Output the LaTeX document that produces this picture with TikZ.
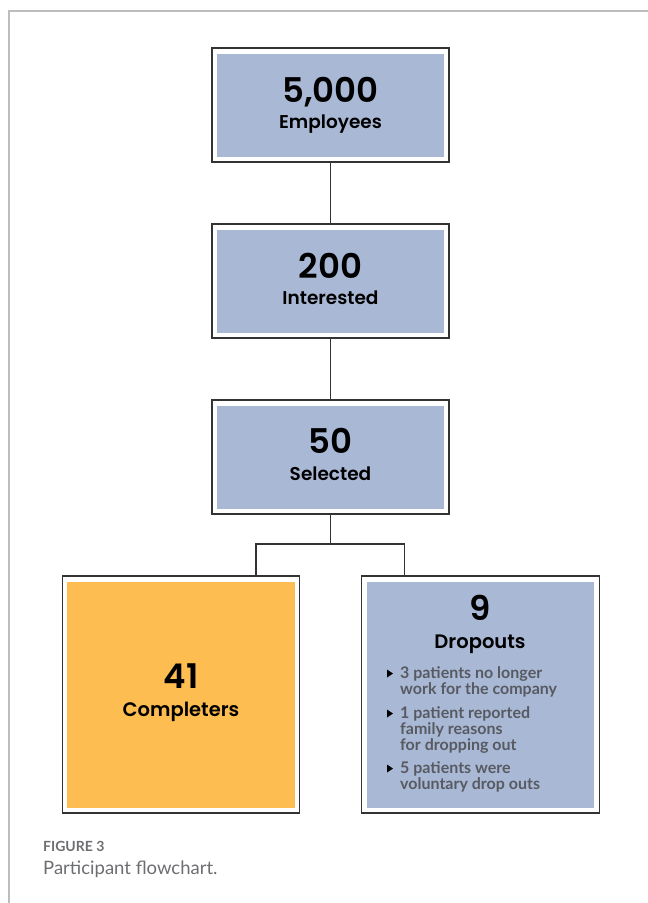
\documentclass[tikz,border=0pt]{standalone}
\usepackage{fontspec}
\newfontfamily\popf{Poppins}[BoldFont={Poppins SemiBold}]
\newfontfamily\latof{Lato}
\definecolor{boxblue}{HTML}{A9B8D5}
\definecolor{boxorange}{HTML}{FDBD51}
\definecolor{edgecol}{HTML}{333333}
\definecolor{framecol}{HTML}{BDBDBD}
\definecolor{bulletgray}{HTML}{575B61}
\definecolor{capgray}{HTML}{6D6E71}
\tikzset{
  stagebox/.style={draw=edgecol, line width=1.2pt, fill=white, inner sep=0pt,
    minimum width=237pt, minimum height=114pt,
    path picture={\fill[#1] ([shift={(5pt,-5.5pt)}]path picture bounding box.north west)
      rectangle ([shift={(-5pt,5.5pt)}]path picture bounding box.south east);}},
  bigbox/.style={stagebox=#1, minimum width=237.5pt, minimum height=237pt},
  conn/.style={draw=edgecol, line width=1.3pt},
  numtxt/.style={anchor=base, inner sep=0pt, font=\popf\bfseries\fontsize{34}{38}\selectfont},
  labtxt/.style={anchor=base, inner sep=0pt, font=\popf\bfseries\fontsize{18.5}{22}\selectfont},
  bultxt/.style={anchor=base west, inner sep=0pt, text=bulletgray, font=\latof\bfseries\fontsize{16}{16}\selectfont},
  bulmark/.style={fill=black},
  captxt/.style={anchor=base west, inner sep=0pt, text=capgray}
}
\begin{document}
\begin{tikzpicture}[x=1pt,y=-1pt]
\useasboundingbox (0,0) rectangle (648,903);
% page frame
\draw[framecol, line width=2pt] (9,903) -- (9,11) -- (648,11);

% boxes
\node[stagebox=boxblue] (n1) at (330.5,105) {};
\node[stagebox=boxblue] (n2) at (330.5,281) {};
\node[stagebox=boxblue] (n3) at (330.5,457) {};
\node[bigbox=boxorange] (n4) at (181,694.5) {};
\node[bigbox=boxblue] (n5) at (480.5,694.5) {};

% connectors
\draw[conn] (n1.south) -- (n2.north);
\draw[conn] (n2.south) -- (n3.north);
\coordinate (jl) at (256,544);
\coordinate (jr) at (404.5,544);
\draw[conn] (n3.south) -- (n3.south |- jl);
\draw[conn] (jl |- n4.north) -- (jl) -- (jr) -- (jr |- n5.north);

% texts
\node[numtxt] (t1a) at (330.5,102) {5,000};
\node[labtxt] (t1b) at (330.5,128) {Employees};
\node[numtxt] (t2a) at (330.5,278) {200};
\node[labtxt] (t2b) at (330.5,304) {Interested};
\node[numtxt] (t3a) at (330.5,453.5) {50};
\node[labtxt] (t3b) at (330.5,480) {Selected};
\node[numtxt] (t4a) at (181,688) {41};
\node[labtxt,font=\popf\bfseries\fontsize{19.5}{22}\selectfont] (t4b) at (181,716) {Completers};
\node[numtxt] (t5a) at (480,620) {9};
\node[labtxt,font=\popf\bfseries\fontsize{19.5}{22}\selectfont] (t5b) at (480,648) {Dropouts};

% bullets
\fill[bulmark] (387,669.5) -- (393,673.5) -- (387,677.5) -- cycle;
\node[bultxt] (b1a) at (400,678) {3 patients no longer};
\node[bultxt] (b1b) at (400,694) {work for the company};
\fill[bulmark] (387,709.5) -- (393,713.5) -- (387,717.5) -- cycle;
\node[bultxt] (b2a) at (400,718) {1 patient reported};
\node[bultxt] (b2b) at (400,734) {family reasons};
\node[bultxt] (b2c) at (400,750) {for dropping out};
\fill[bulmark] (387,764.5) -- (393,768.5) -- (387,772.5) -- cycle;
\node[bultxt] (b3a) at (400,773) {5 patients were};
\node[bultxt] (b3b) at (400,789) {voluntary drop outs};

% caption
\node[captxt, font=\latof\bfseries\fontsize{14}{16}\selectfont] (cap1) at (43,851) {FIGURE 3};
\node[captxt, font=\latof\fontsize{18.5}{22}\selectfont] (cap2) at (43,874) {Participant flowchart.};
\end{tikzpicture}
\end{document}
